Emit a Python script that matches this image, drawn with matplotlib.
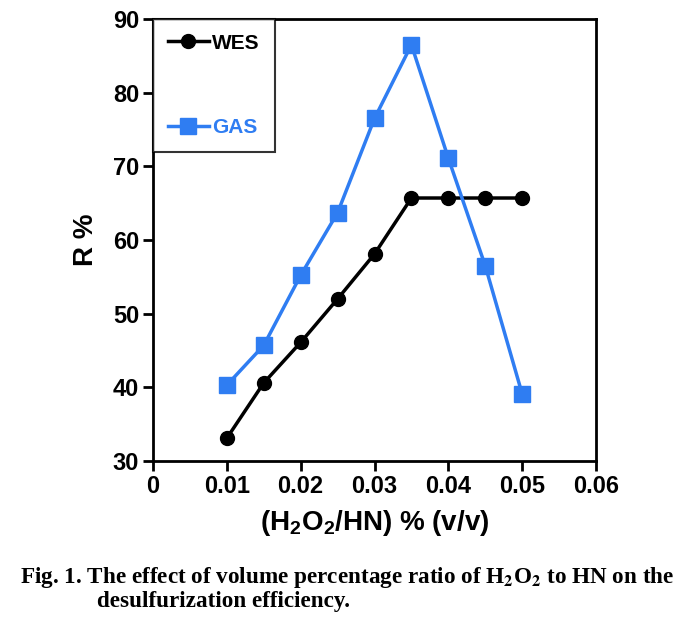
import numpy as np
import matplotlib.pyplot as plt

# data
ratio = [0.01, 0.015, 0.02, 0.025, 0.03, 0.035, 0.04, 0.045, 0.05]
wes = [33.1, 40.6, 46.1, 52.0, 58.1, 65.7, 65.7, 65.7, 65.7]
gas = [40.3, 45.7, 55.2, 63.7, 76.5, 86.5, 71.1, 56.5, 39.1]

xticks = [0, 0.01, 0.02, 0.03, 0.04, 0.05, 0.06]
xticklabels = ["0", "0.01", "0.02", "0.03", "0.04", "0.05", "0.06"]
yticks = [30, 40, 50, 60, 70, 80, 90]

blue = "#2F7DF2"

plt.rcParams['font.family'] = ['Liberation Sans', 'DejaVu Sans']
plt.rcParams['font.weight'] = 'bold'
plt.rcParams['mathtext.fontset'] = 'custom'
plt.rcParams['mathtext.rm'] = 'Liberation Sans:bold'
plt.rcParams['mathtext.bf'] = 'Liberation Sans:bold'

fig = plt.figure(figsize=(6.94, 6.19), dpi=100)
ax = fig.add_axes([153 / 694, 1 - 461 / 619, 443 / 694, 442 / 619])

ax.plot(ratio, wes, color="black", lw=2.5, marker="o", ms=10, label="WES")
ax.plot(ratio, gas, color=blue, lw=2.5, marker="s", ms=12, label="GAS")

ax.set_xlim(0, 0.06)
ax.set_ylim(30, 90)
ax.set_xticks(xticks)
ax.set_xticklabels(xticklabels)
ax.set_yticks(yticks)
ax.tick_params(direction="out", length=7, width=2, labelsize=17, pad=3)
for lab in ax.get_xticklabels() + ax.get_yticklabels():
    lab.set_fontweight("bold")
for s in ax.spines.values():
    s.set_linewidth(2)

ax.set_xlabel(r"(H$_\mathbf{2}$O$_\mathbf{2}$/HN) % (v/v)", fontsize=20, fontweight="bold", labelpad=7)
ax.set_ylabel("R %", fontsize=20, fontweight="bold", labelpad=10)

leg = ax.legend(loc="upper left", frameon=True, fancybox=False, edgecolor="black",
                borderaxespad=0, borderpad=0.7, labelspacing=3.15, handlelength=2.0,
                handletextpad=0.15, prop={"size": 15, "weight": "bold"})
leg.get_frame().set_linewidth(1.5)
leg.texts[0].set_color("black")
leg.texts[1].set_color(blue)

cap = {"family": ["Liberation Serif", "DejaVu Serif"], "fontsize": 16.7, "fontweight": "bold",
       "math_fontfamily": "stix"}
fig.text(20 / 694, 1 - 577 / 619,
         r"Fig. 1. The effect of volume percentage ratio of H$_\mathbf{2}$O$_\mathbf{2}$ to HN on the",
         va="center", ha="left", **cap)
fig.text(97 / 694, 1 - 601 / 619, "desulfurization efficiency.", va="center", ha="left", **cap)

fig.savefig("out.png", dpi=100)
